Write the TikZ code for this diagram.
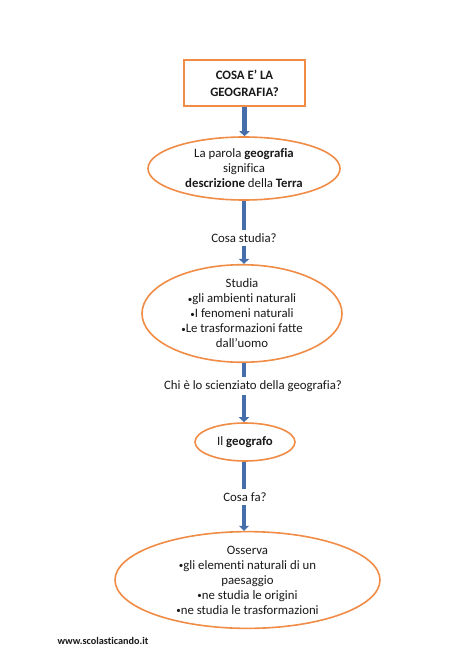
\documentclass[tikz,border=0pt]{standalone}
\usepackage{fontspec}
\setmainfont[Ligatures=NoCommon]{Carlito}
\usetikzlibrary{shapes.geometric,arrows.meta}
\definecolor{orng}{RGB}{240,140,70}
\definecolor{blu}{RGB}{70,110,170}
\newcommand{\bul}{{\fontsize{9}{9}\selectfont\raisebox{0.08em}{•}}}
\tikzset{
  every node/.style={font=\fontsize{12.8}{15}\selectfont, align=center, text=black!90},
  oval/.style={ellipse, draw=orng, line width=1.6pt, inner sep=0pt},
  titlebox/.style={rectangle, draw=orng, line width=2pt, inner sep=0pt},
  lbl/.style={inner xsep=2pt, inner ysep=3pt},
  link/.style={draw=blu, line width=4.5pt},
  arr/.style={link, -{Triangle[width=10pt,length=5pt]}},
}
\begin{document}
\begin{tikzpicture}[x=1pt,y=-1pt]
\useasboundingbox[fill=white] (0,0) rectangle (474,669);
\node[titlebox, minimum width=121pt, minimum height=46pt, font=\bfseries\fontsize{12.8}{17}\selectfont] (box) at (244.5,83) {COSA E’ LA\\GEOGRAFIA?};
\node[oval, minimum width=192pt, minimum height=63pt] (e1) at (244,168.5) {La parola \textbf{geografia}\\significa\\\textbf{descrizione} della \textbf{Terra}};
\node[lbl] (l1) at (244,238) {Cosa studia?};
\node[oval, minimum width=200pt, minimum height=77pt] (e2) at (242,313.5) {Studia\\\bul gli ambienti naturali\\\bul I fenomeni naturali\\\bul Le trasformazioni fatte\\dall’uomo};
\node[lbl] (l2) at (253,386) {Chi è lo scienziato della geografia?};
\node[oval, minimum width=100pt, minimum height=38pt] (e3) at (245,442) {Il \textbf{geografo}};
\node[lbl] (l3) at (245,497) {Cosa fa?};
\node[oval, minimum width=265pt, minimum height=95pt] (e4) at (247.5,580) {Osserva\\\bul gli elementi naturali di un\\paesaggio\\\bul ne studia le origini\\\bul ne studia le trasformazioni};
\node[font=\bfseries\fontsize{10.2}{12}\selectfont, anchor=west] (web) at (54,641) {www.scolasticando.it};
\draw[arr] (box.south) -- (box.south |- e1.north);
\draw[link] (e1.south) -- (e1.south |- l1.north);
\draw[arr] (l1.south) -- (l1.south |- e2.north);
\draw[link] (e2.south -| l1.south) -- (l1.south |- l2.north);
\draw[arr] (l1.south |- l2.south) -- (l1.south |- e3.north);
\draw[link] (e3.south -| l1.south) -- (l1.south |- l3.north);
\draw[arr] (l1.south |- l3.south) -- (l1.south |- e4.north);
\end{tikzpicture}
\end{document}
